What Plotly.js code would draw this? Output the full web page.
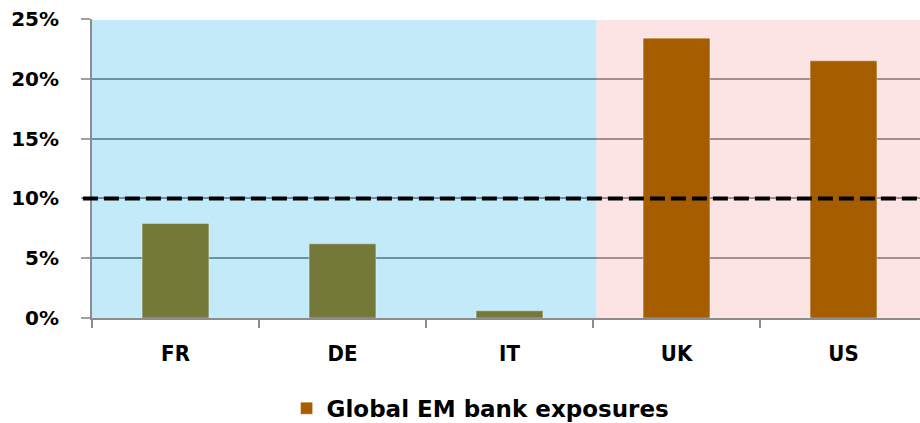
<!DOCTYPE html>
<html>
<head>
<meta charset="utf-8">
<script src="https://cdn.plot.ly/plotly-3.0.1.min.js"></script>
<style>html,body{margin:0;padding:0;background:#fff;}#chart{width:920px;height:423px;}</style>
</head>
<body>
<div id="chart"></div>
<script>
const categories = ["FR", "DE", "IT", "UK", "US"];
const exposures = [7.9, 6.2, 0.6, 23.4, 21.5];
const groups = ["euro", "euro", "euro", "other", "other"];
const groupColors = { euro: "#74793A", other: "#A55D00" };
const yTicks = [0, 5, 10, 15, 20, 25];
const yTickLabels = ["0%", "5%", "10%", "15%", "20%", "25%"];
const threshold = 10;
const seriesName = "Global EM bank exposures";

function subset(g) {
  const idx = groups.map((v, i) => v === g ? i : -1).filter(i => i >= 0);
  return { x: idx.map(i => categories[i]), y: idx.map(i => exposures[i]) };
}

const traces = ["euro", "other"].map(g => {
  const s = subset(g);
  return {
    type: "bar", x: s.x, y: s.y, name: seriesName, width: 0.4,
    marker: { color: groupColors[g], line: { color: "rgba(255,255,255,0.35)", width: 1 } },
    showlegend: g === "other", hoverinfo: "skip"
  };
});

const layout = {
  width: 920, height: 423,
  margin: { l: 92, r: 0, t: 19, b: 105 },
  paper_bgcolor: "#ffffff",
  plot_bgcolor: "rgba(0,0,0,0)",
  barmode: "overlay",
  xaxis: {
    type: "category",
    categoryorder: "array", categoryarray: categories,
    range: [-0.5, 4.458],
    showgrid: false,
    zeroline: false,
    showline: true, linecolor: "#8c8c8c", linewidth: 2,
    ticks: "outside", tickson: "boundaries", ticklen: 8, tickcolor: "#8c8c8c", tickwidth: 2,
    ticklabelstandoff: 15,
    tickfont: { family: "DejaVu Sans Condensed, Liberation Sans", size: 22, color: "#000", weight: "bold" },
    fixedrange: true
  },
  yaxis: {
    range: [0, 25],
    tickvals: yTicks, ticktext: yTickLabels,
    showgrid: true, gridcolor: "#7a7f84", gridwidth: 2,
    zeroline: false,
    showline: true, linecolor: "#8c8c8c", linewidth: 2,
    ticks: "outside", ticklen: 9, tickcolor: "#a0a0a0", tickwidth: 2,
    ticklabelstandoff: 18,
    tickfont: { family: "DejaVu Sans", size: 20, color: "#000", weight: "bold" },
    fixedrange: true
  },
  shapes: [
    { type: "rect", layer: "between", xref: "x", yref: "y", x0: -0.5, x1: 2.52, y0: 0, y1: 24.92,
      fillcolor: "rgba(64,189,236,0.32)", line: { width: 0 } },
    { type: "rect", layer: "between", xref: "x", yref: "y", x0: 2.52, x1: 4.458, y0: 0, y1: 24.92,
      fillcolor: "rgba(249,171,171,0.32)", line: { width: 0 } },
    { type: "line", layer: "above", xref: "paper", yref: "y", x0: -0.011, x1: 1, y0: threshold, y1: threshold,
      line: { color: "#000", width: 4, dash: "15px,6px" } }
  ],
  legend: {
    orientation: "h",
    xref: "container", yref: "container",
    x: 0.3115, xanchor: "left",
    y: 0.035, yanchor: "middle",
    font: { family: "DejaVu Sans", size: 23, color: "#000", weight: "bold" },
    bgcolor: "rgba(0,0,0,0)"
  }
};

Plotly.newPlot("chart", traces, layout, { displayModeBar: false, staticPlot: true });
</script>
</body>
</html>
